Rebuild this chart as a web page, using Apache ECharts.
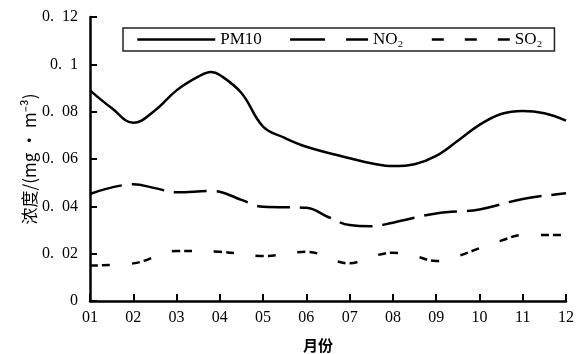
<!DOCTYPE html>
<html>
<head>
<meta charset="utf-8">
<script src="https://cdn.jsdelivr.net/npm/echarts@6/dist/echarts.min.js"></script>
<style>
html,body{margin:0;padding:0;background:#fff;}
#c{width:576px;height:354px;}
</style>
</head>
<body>
<div id="c"></div>
<script>
// Data
var seriesNames = ['PM10', 'NO\u2082', 'SO\u2082'];
var monthLabels = ['01','02','03','04','05','06','07','08','09','10','11','12'];
var yTicks = [0, 0.02, 0.04, 0.06, 0.08, 0.1, 0.12];

var pm10X = [1, 1.5, 2, 2.5, 3, 3.5, 3.8, 4, 4.5, 5, 5.5, 6, 7, 7.5, 8, 8.5, 9, 9.5, 10, 10.5, 11, 11.5, 12];
var pm10Y = [0.089, 0.0815, 0.0753, 0.0805, 0.089, 0.0948, 0.0968, 0.0955, 0.0879, 0.0737, 0.0689, 0.0652, 0.0603, 0.0582, 0.0570, 0.0578, 0.0613, 0.0677, 0.0744, 0.079, 0.0803, 0.0793, 0.0762];

var no2X = [1, 2, 2.5, 3, 3.8, 4, 4.5, 5, 6, 6.5, 7, 7.5, 8, 9, 10, 11, 12];
var no2Y = [0.0452, 0.0493, 0.0477, 0.0459, 0.0465, 0.0462, 0.0427, 0.0398, 0.0394, 0.0355, 0.0321, 0.0316, 0.0331, 0.0370, 0.0387, 0.0431, 0.0455];

var so2X = [1, 2, 3, 4, 5, 6, 7, 7.5, 8, 8.5, 9, 9.5, 10, 10.5, 11, 12];
var so2Y = [0.015, 0.0159, 0.0211, 0.0208, 0.0190, 0.0208, 0.0159, 0.0187, 0.0204, 0.0190, 0.0169, 0.0190, 0.0223, 0.0255, 0.0279, 0.0279];

function pairs(xs, ys) { return xs.map(function (x, i) { return [x, ys[i]]; }); }

var FONT = '"Liberation Serif","DejaVu Serif","Noto Sans CJK SC",serif';
var chart = echarts.init(document.getElementById('c'), null, {renderer: 'canvas'});

chart.setOption({
  animation: false,
  backgroundColor: '#fff',
  grid: {left: 90, right: 10, top: 17, bottom: 53, containLabel: false, outerBoundsMode: 'none'},
  legend: {
    left: 123, top: 28,
    orient: 'horizontal',
    itemWidth: 78, itemHeight: 14, itemGap: 27,
    padding: [3, 12, 3, 13],
    borderColor: '#222', borderWidth: 1.5, borderRadius: 0,
    itemStyle: {opacity: 0},
    textStyle: {fontFamily: FONT, fontSize: 17, color: '#000'},
    data: [
      {name: seriesNames[0], lineStyle: {type: 'solid', width: 2.5}},
      {name: seriesNames[1], lineStyle: {type: [35, 21], width: 2.5}},
      {name: seriesNames[2], lineStyle: {type: [12, 21], width: 2.5}}
    ]
  },
  xAxis: {
    type: 'value', min: 1, max: 12, interval: 1,
    name: '月份', nameLocation: 'middle', nameGap: 37, nameMoveOverlap: false,
    nameTextStyle: {fontFamily: '"Noto Sans CJK SC",sans-serif', fontSize: 15, fontWeight: 'bold', color: '#000', padding: [0, 20, 0, 0]},
    axisLine: {lineStyle: {color: '#000', width: 2.5}},
    axisTick: {inside: true, length: 7, lineStyle: {color: '#000', width: 2}},
    axisLabel: {fontFamily: FONT, fontSize: 16, color: '#000', margin: 9,
      formatter: function (v) { return monthLabels[Math.round(v) - 1] || ''; }},
    splitLine: {show: false}
  },
  yAxis: {
    type: 'value', min: yTicks[0], max: yTicks[yTicks.length - 1], interval: 0.02,
    name: '浓度/(mg • m\u207B\u00B3)', nameLocation: 'middle', nameGap: 52, nameMoveOverlap: false,
    nameTextStyle: {fontFamily: '"Noto Sans CJK SC",serif', fontSize: 17, color: '#000'},
    axisLine: {show: true, lineStyle: {color: '#000', width: 2.5}},
    axisTick: {show: true, inside: true, length: 7, lineStyle: {color: '#000', width: 2}},
    axisLabel: {fontFamily: FONT, fontSize: 16, color: '#000', margin: 12,
      formatter: function (v) { return v === 0 ? '0' : String(+v.toFixed(2)).replace('.', '.\u2002'); }},
    splitLine: {show: false}
  },
  series: [
    {name: seriesNames[0], type: 'line', smooth: 0.4, symbol: 'none',
      lineStyle: {color: '#000', width: 2.5, type: 'solid'},
      itemStyle: {color: '#000'},
      data: pairs(pm10X, pm10Y)},
    {name: seriesNames[1], type: 'line', smooth: 0.4, symbol: 'none',
      lineStyle: {color: '#000', width: 2.5, type: [33, 10]},
      itemStyle: {color: '#000'},
      data: pairs(no2X, no2Y)},
    {name: seriesNames[2], type: 'line', smooth: 0.4, symbol: 'none',
      lineStyle: {color: '#000', width: 2.5, type: [8, 4, 8, 22]},
      itemStyle: {color: '#000'},
      data: pairs(so2X, so2Y)}
  ]
});
</script>
</body>
</html>
